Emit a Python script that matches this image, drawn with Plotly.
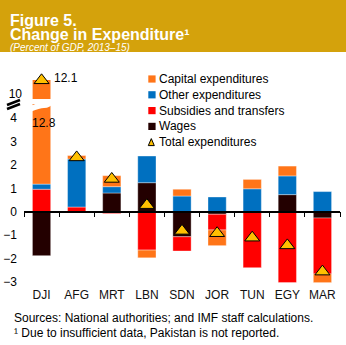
import plotly.graph_objects as go

countries = ["DJI", "AFG", "MRT", "LBN", "SDN", "JOR", "TUN", "EGY", "MAR"]
wages = [-1.88, 0.0, 0.80, 1.24, -1.07, -0.11, 0.0, 0.73, -0.27]
subsidies = [0.96, 0.20, -0.08, -1.64, -0.61, -0.67, -2.39, -3.03, -2.39]
other = [0.22, 2.05, 0.27, 1.14, 0.67, 0.63, 0.98, 0.80, 0.86]
capital = [12.8, 0.15, 0.47, -0.33, 0.29, -0.67, 0.40, 0.42, -0.37]
total = [12.1, 2.32, 1.40, 0.28, -0.82, -0.92, -1.11, -1.44, -2.56]
lower_ticks = [-3, -2, -1, 0, 1, 2, 3, 4]
upper_ticks = [10]

W, H = 346, 345
FONT = "Liberation Sans, Arial, sans-serif"
def px(x): return x / W
def py(y): return 1 - y / H

xpos = list(range(len(countries)))
series = [
    ("Wages", wages, "#230000"),
    ("Subsidies and transfers", subsidies, "#FF0000"),
    ("Other expenditures", other, "#0070C0"),
    ("Capital expenditures", capital, "#FF7518"),
]
TRI_COLOR = "#FFC000"

fig = go.Figure()
for yax in ["y", "y2"]:
    for name, vals, col in series:
        fig.add_trace(go.Bar(
            x=xpos, y=vals, name=name, yaxis=yax, xaxis="x",
            marker=dict(color=col, line=dict(width=0.6, color="rgba(255,255,255,0.6)")),
            width=0.52, showlegend=False, hoverinfo="skip"))
    fig.add_trace(go.Scatter(
        x=xpos, y=total, name="Total expenditures", yaxis=yax, xaxis="x",
        mode="markers", showlegend=False,
        cliponaxis=(yax == "y"),
        marker=dict(symbol="triangle-up", size=13, color=TRI_COLOR,
                    line=dict(color="black", width=1))))

# invisible trace for the zero-line axis
fig.add_trace(go.Scatter(x=[0], y=[0], xaxis="x2", yaxis="y", mode="markers",
                         marker=dict(opacity=0), showlegend=False, hoverinfo="skip"))

xdom = [px(24), px(340)]
fig.update_layout(
    width=W, height=H, margin=dict(l=0, r=0, t=0, b=0),
    paper_bgcolor="white", plot_bgcolor="white",
    barmode="relative", bargap=0.48, showlegend=False,
    font=dict(family=FONT, size=12, color="black"),
    xaxis=dict(domain=xdom, range=[-0.5, 8.5], tickvals=xpos, ticktext=countries,
               showline=False, showgrid=False, zeroline=False, ticks="",
               anchor="y", automargin=False, tickfont=dict(size=12, color="#111")),
    xaxis2=dict(domain=xdom, range=[-0.5, 8.5], overlaying="x", anchor="free",
                position=py(211.7), tickvals=[i - 0.5 for i in range(10)],
                ticks="outside", ticklen=5, tickcolor="black", tickwidth=1,
                showticklabels=False, showline=True, linecolor="black", linewidth=1.5,
                showgrid=False, zeroline=False, automargin=False),
    yaxis=dict(domain=[py(286), py(104)], range=[-3.175, 4.603], tickvals=lower_ticks,
               showgrid=False, zeroline=False, showline=False, ticks="",
               automargin=False, tickfont=dict(size=12), ticklabelstandoff=6),
    yaxis2=dict(domain=[py(99), py(80)], range=[9.2, 12.15], tickvals=upper_ticks,
                showgrid=False, zeroline=False, showline=False, ticks="", anchor="x",
                automargin=False, tickfont=dict(size=12), ticklabelstandoff=1),
)

shapes = [
    dict(type="rect", xref="paper", yref="paper", x0=0, x1=1, y0=py(52), y1=1,
         fillcolor="#D4A20C", line=dict(width=0), layer="below"),
    dict(type="path", xref="paper", yref="paper",
         path=(f"M {px(30)} {py(106)} Q {px(40)} {py(102)} {px(44)} {py(102)} "
               f"Q {px(50)} {py(102)} {px(55)} {py(96)} L {px(55)} {py(102)} "
               f"Q {px(50)} {py(108)} {px(44)} {py(108)} Q {px(40)} {py(108)} {px(30)} {py(112)} Z"),
         fillcolor="white", line=dict(width=0), layer="above"),
    dict(type="line", xref="paper", yref="paper", x0=px(7), y0=py(105), x1=px(20), y1=py(100),
         line=dict(color="black", width=2.5)),
    dict(type="line", xref="paper", yref="paper", x0=px(7), y0=py(109), x1=px(20), y1=py(104),
         line=dict(color="black", width=2.5)),
]

ann = [
    dict(text="<b>Figure 5.</b>", x=px(8), y=py(20), xref="paper", yref="paper",
         xanchor="left", yanchor="middle", showarrow=False,
         font=dict(size=16, color="white", family=FONT)),
    dict(text="<b>Change in Expenditure¹</b>", x=px(8), y=py(34.5), xref="paper",
         yref="paper", xanchor="left", yanchor="middle", showarrow=False,
         font=dict(size=16, color="white", family=FONT)),
    dict(text="<i>(Percent of GDP, 2013–15)</i>", x=px(8), y=py(47.5), xref="paper",
         yref="paper", xanchor="left", yanchor="middle", showarrow=False,
         font=dict(size=10, color="white", family=FONT)),
    dict(text=f"{total[0]}", x=0, y=total[0], xref="x", yref="y2", xanchor="left",
         yanchor="middle", xshift=10, yshift=2, showarrow=False, font=dict(size=12)),
    dict(text=f"{capital[0]}", x=0, y=3.8, xref="x", yref="y", xanchor="center",
         yanchor="middle", xshift=2, showarrow=False, font=dict(size=12)),
    dict(text="Sources: National authorities; and IMF staff calculations.", x=px(12),
         y=py(318), xref="paper", yref="paper", xanchor="left", yanchor="middle",
         showarrow=False, font=dict(size=12)),
    dict(text="¹ Due to insufficient data, Pakistan is not reported.", x=px(12),
         y=py(333), xref="paper", yref="paper", xanchor="left", yanchor="middle",
         showarrow=False, font=dict(size=12)),
]

# manual legend (compact spacing as in the reference)
legend_items = [(name, col) for name, _, col in reversed(series)] + [("Total expenditures", None)]
for i, (name, col) in enumerate(legend_items):
    yc = 79 + 15.8 * i
    if col is not None:
        shapes.append(dict(type="rect", xref="paper", yref="paper",
                           x0=px(148.3), x1=px(155.6), y0=py(yc + 3.6), y1=py(yc - 3.6),
                           fillcolor=col, line=dict(width=0)))
    else:
        shapes.append(dict(type="path", xref="paper", yref="paper",
                           path=f"M {px(148.3)} {py(yc + 3.4)} L {px(154.3)} {py(yc + 3.4)} "
                                f"L {px(151.3)} {py(yc - 3.6)} Z",
                           fillcolor=TRI_COLOR, line=dict(color="black", width=1)))
    ann.append(dict(text=name, x=px(156.5), y=py(yc), xref="paper", yref="paper",
                    xanchor="left", yanchor="middle", showarrow=False,
                    font=dict(size=12, color="black")))

fig.update_layout(shapes=shapes, annotations=ann)
fig.write_html("out.html")
